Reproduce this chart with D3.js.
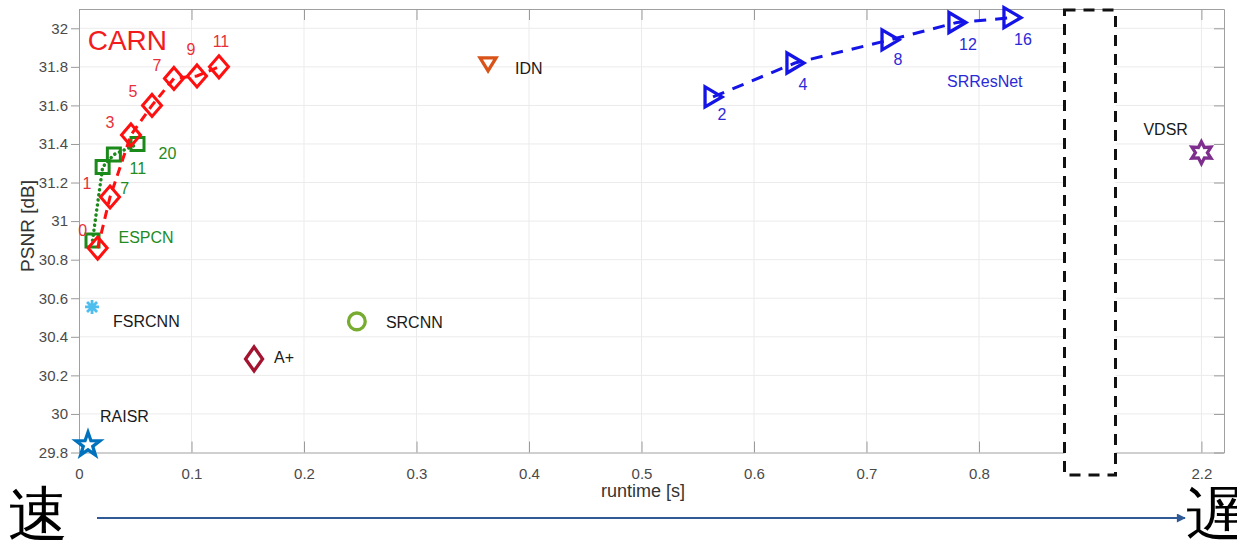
<!DOCTYPE html>
<html>
<head>
<meta charset="utf-8">
<script src="https://cdn.jsdelivr.net/npm/d3@7"></script>
<style>
  body { margin: 0; background: #fff; }
  svg text { font-family: "Liberation Sans", Arial, sans-serif; }
  .tick text { fill: #4a4a4a; font-size: 15px; }
</style>
</head>
<body>
<div id="chart"></div>
<script>
const width = 1237
const height = 543
const margin = { top: 9, bottom: 90.5, left: 79, right: 13 }

// CARN (red diamonds, dashed)
const carnRuntime = [0.0166, 0.0276, 0.0462, 0.0649, 0.0844, 0.1049, 0.1244]
const carnPsnr = [30.86, 31.125, 31.447, 31.60, 31.74, 31.753, 31.80]
const carnLabels = ["0", "1", "3", "5", "7", "9", "11"]

// ESPCN (green squares, dotted)
const espcnRuntime = [0.012, 0.021, 0.031, 0.052]
const espcnPsnr = [30.90, 31.28, 31.345, 31.40]
const espcnLabels = ["", "7", "11", "20"]

// SRResNet (blue triangles, dashed)
const srresRuntime = [0.5636, 0.6364, 0.7209, 0.7804, 0.8293]
const srresPsnr = [31.644, 31.82, 31.94, 32.03, 32.055]
const srresLabels = ["2", "4", "8", "12", "16"]

// single methods
const methodNames = ["RAISR", "FSRCNN", "SRCNN", "A+", "IDN", "VDSR"]
const methodRuntime = [0.008, 0.0116, 0.247, 0.1556, 0.3636, 2.2]
const methodPsnr = [29.84, 30.555, 30.48, 30.285, 31.815, 31.355]

const xTicks = [0, 0.1, 0.2, 0.3, 0.4, 0.5, 0.6, 0.7, 0.8, 2.2]
const yTicks = [29.8, 30, 30.2, 30.4, 30.6, 30.8, 31, 31.2, 31.4, 31.6, 31.8, 32]

// label placement (pixels, relative to marker)
const carnLabelOffsets = [[-15, -18], [-23, -14], [-21, -12], [-19, -14], [-17, -13], [-6, -26], [2, -25]]
const espcnLabelOffsets = [[0, 0], [22, 21], [24, 14], [30, 10]]
const srresLabelOffsets = [[9, 18], [8, 22], [8, 20], [11, 22], [11, 22]]
const methodLabelOffsets = [[12, -28], [21, 15], [29, 1], [20, -1], [27, 5], [-58, -23]]
const methodColors = ["#0072bd", "#4dbeee", "#77ac30", "#a2142f", "#d95319", "#7e2f8e"]
const methodShapes = ["star", "asterisk", "circle", "diamond", "tridown", "hexagram"]

const svg = d3.select("div#chart").append("svg").attr("width", width).attr("height", height)
svg.append("rect").attr("width", width).attr("height", height).attr("fill", "#fff")

const plotRight = width - margin.right
const plotBottom = height - margin.bottom

// broken x axis: 0..0.9 then jump to 2.1..2.22
const x = d3.scaleLinear()
    .domain([0, 0.9, 2.1, 2.22])
    .range([margin.left, margin.left + 0.9 * 1125, margin.left + 0.9 * 1125 - 3, plotRight])
const y = d3.scaleLinear().domain([29.8, 32.1]).range([plotBottom, margin.top])

const gridGroup = svg.append("g").attr("id", "gridGroup")
gridGroup.selectAll("line.vgrid").data(xTicks.filter(d => d > 0)).enter().append("line")
    .attr("class", "vgrid")
    .attr("x1", d => x(d)).attr("x2", d => x(d))
    .attr("y1", margin.top).attr("y2", plotBottom)
    .attr("stroke", "#ebebeb").attr("stroke-width", 1)
gridGroup.selectAll("line.hgrid").data(yTicks.filter(d => d > 29.8)).enter().append("line")
    .attr("class", "hgrid")
    .attr("x1", margin.left).attr("x2", plotRight)
    .attr("y1", d => y(d)).attr("y2", d => y(d))
    .attr("stroke", "#ebebeb").attr("stroke-width", 1)

const fmt = d => d3.format("~g")(d)

const xAxis = d3.axisBottom(x).tickValues(xTicks).tickFormat(fmt).tickSizeInner(-11).tickSizeOuter(0).tickPadding(16)
const xAxisTop = d3.axisTop(x).tickValues(xTicks).tickFormat("").tickSizeInner(-11).tickSizeOuter(0)
const yAxis = d3.axisLeft(y).tickValues(yTicks).tickFormat(fmt).tickSizeInner(8).tickSizeOuter(0).tickPadding(3)
const yAxisRight = d3.axisRight(y).tickValues(yTicks).tickFormat("").tickSizeInner(-10).tickSizeOuter(0)

function styleAxis(g) {
    g.select(".domain").attr("stroke", "#a0a0a0")
    g.selectAll(".tick line").attr("stroke", "#9a9a9a")
}
svg.append("g").attr("transform", `translate(0, ${plotBottom})`).call(xAxis).call(styleAxis)
svg.append("g").attr("transform", `translate(0, ${margin.top})`).call(xAxisTop).call(styleAxis)
svg.append("g").attr("transform", `translate(${margin.left}, 0)`).call(yAxis).call(styleAxis)
svg.append("g").attr("transform", `translate(${plotRight}, 0)`).call(yAxisRight).call(styleAxis)
svg.selectAll(".tick text").attr("font-family", null).attr("font-size", null)

svg.append("text").text("runtime [s]")
    .attr("x", 643).attr("y", 497).attr("text-anchor", "middle")
    .attr("font-size", 18).attr("fill", "#333")
svg.append("text").text("PSNR [dB]")
    .attr("transform", `translate(34, 226) rotate(-90)`).attr("text-anchor", "middle")
    .attr("font-size", 19).attr("fill", "#333")

// marker shapes
function shapePath(kind) {
    if (kind === "diamondBig") return "M0,-11L9.5,0L0,11L-9.5,0Z"
    if (kind === "diamond") return "M0,-12L8.5,0L0,12L-8.5,0Z"
    if (kind === "square") return "M-6.5,-6.5H6.5V6.5H-6.5Z"
    if (kind === "triright") return "M-8,-10L9,0L-8,10Z"
    if (kind === "tridown") return "M-8,-6H8L0,7Z"
    if (kind === "circle") return d3.symbol(d3.symbolCircle, 220)()
    if (kind === "asterisk") return "M-7,0H7M0,-7V7M-5,-5L5,5M-5,5L5,-5"
    if (kind === "star") {
        const pts = d3.range(10).map(i => {
            const r = i % 2 === 0 ? 12.5 : 5
            const a = -Math.PI / 2 + i * Math.PI / 5
            return [r * Math.cos(a), r * Math.sin(a)]
        })
        return "M" + pts.join("L") + "Z"
    }
    if (kind === "hexagram") {
        const pts = d3.range(12).map(i => {
            const r = i % 2 === 0 ? 11 : 6
            const a = -Math.PI / 2 + i * Math.PI / 6
            return [r * Math.cos(a), r * Math.sin(a)]
        })
        return "M" + pts.join("L") + "Z"
    }
}

const line = d3.line().x(d => x(d[0])).y(d => y(d[1]))

function drawSeries(runtime, psnr, labels, offsets, opt) {
    const pts = runtime.map((r, i) => [r, psnr[i], labels[i], offsets[i]])
    const g = svg.append("g")
    g.append("path").attr("d", line(pts))
        .attr("fill", "none").attr("stroke", opt.color).attr("stroke-width", opt.lw)
        .attr("stroke-dasharray", opt.dash).attr("stroke-linecap", opt.cap || "butt")
    g.selectAll("path.mk").data(pts).enter().append("path")
        .attr("class", "mk")
        .attr("d", shapePath(opt.shape))
        .attr("transform", d => `translate(${x(d[0])}, ${y(d[1])})`)
        .attr("fill", "none").attr("stroke", opt.markColor || opt.color).attr("stroke-width", opt.mw)
        .attr("stroke-linejoin", "miter")
    g.selectAll("text").data(pts.filter(d => d[2] !== "")).enter().append("text")
        .text(d => d[2])
        .attr("x", d => x(d[0]) + d[3][0]).attr("y", d => y(d[1]) + d[3][1])
        .attr("text-anchor", "middle").attr("dominant-baseline", "central")
        .attr("font-size", 16).attr("fill", opt.textColor)
    return pts
}

drawSeries(espcnRuntime, espcnPsnr, espcnLabels, espcnLabelOffsets,
    { color: "#1a8a1a", lw: 3.5, dash: "0.1,5", cap: "round", shape: "square", mw: 3, textColor: "#228b22" })
drawSeries(carnRuntime, carnPsnr, carnLabels, carnLabelOffsets,
    { color: "#ff1010", lw: 3, dash: "9,6", shape: "diamondBig", mw: 3, textColor: "#e8303a" })
drawSeries(srresRuntime, srresPsnr, srresLabels, srresLabelOffsets,
    { color: "#1414e6", lw: 3, dash: "12,9", shape: "triright", mw: 3.3, textColor: "#2a2ad8" })

// series names
svg.append("text").text("CARN")
    .attr("x", x(carnRuntime[0]) - 10).attr("y", y(carnPsnr[0]) - 208)
    .attr("dominant-baseline", "central").attr("font-size", 28).attr("fill", "#f21c1c")
svg.append("text").text("ESPCN")
    .attr("x", x(espcnRuntime[0]) + 26).attr("y", y(espcnPsnr[0]) - 3)
    .attr("dominant-baseline", "central").attr("font-size", 16).attr("fill", "#228b22")
svg.append("text").text("SRResNet")
    .attr("x", x(srresRuntime[4]) - 65).attr("y", y(srresPsnr[4]) + 64)
    .attr("dominant-baseline", "central").attr("font-size", 16).attr("fill", "#2a2ad8")

// single methods
const methods = methodNames.map((n, i) => ({
    name: n, r: methodRuntime[i], p: methodPsnr[i],
    off: methodLabelOffsets[i], color: methodColors[i], shape: methodShapes[i]
}))
const mg = svg.append("g")
mg.selectAll("path").data(methods).enter().append("path")
    .attr("d", d => shapePath(d.shape))
    .attr("transform", d => `translate(${x(d.r)}, ${y(d.p)})`)
    .attr("fill", d => d.shape === "star" || d.shape === "hexagram" ? "#fff" : "none")
    .attr("stroke", d => d.color).attr("stroke-width", d => d.shape === "asterisk" ? 2.8 : 3.3)
    .attr("stroke-linejoin", "miter")
mg.selectAll("text").data(methods).enter().append("text")
    .text(d => d.name)
    .attr("x", d => x(d.r) + d.off[0]).attr("y", d => y(d.p) + d.off[1])
    .attr("dominant-baseline", "central").attr("font-size", 16).attr("fill", "#1a1a1a")

// dashed box over the axis break
const breakX = x(0.9)
svg.append("rect")
    .attr("x", breakX - 27).attr("y", margin.top + 1)
    .attr("width", 51).attr("height", 475 - margin.top - 1)
    .attr("fill", "#fff").attr("stroke", "#111").attr("stroke-width", 3)
    .attr("stroke-dasharray", "11,8")

// speed arrow
const defs = svg.append("defs")
defs.append("marker").attr("id", "arrowHead")
    .attr("viewBox", "0 0 10 10").attr("refX", 9).attr("refY", 5)
    .attr("markerWidth", 6).attr("markerHeight", 4.5).attr("orient", "auto")
    .append("path").attr("d", "M0,0L10,5L0,10Z").attr("fill", "#2f5a96")
svg.append("line")
    .attr("x1", 97).attr("x2", 1185).attr("y1", 518).attr("y2", 518)
    .attr("stroke", "#2f5a96").attr("stroke-width", 2)
    .attr("marker-end", "url(#arrowHead)")
svg.append("text").text("速").attr("x", 8).attr("y", 535)
    .attr("font-family", "'Noto Sans CJK JP', sans-serif").attr("font-size", 60).attr("fill", "#000")
svg.append("text").text("遅").attr("x", 1186).attr("y", 535)
    .attr("font-family", "'Noto Sans CJK JP', sans-serif").attr("font-size", 60).attr("fill", "#000")
</script>
</body>
</html>
